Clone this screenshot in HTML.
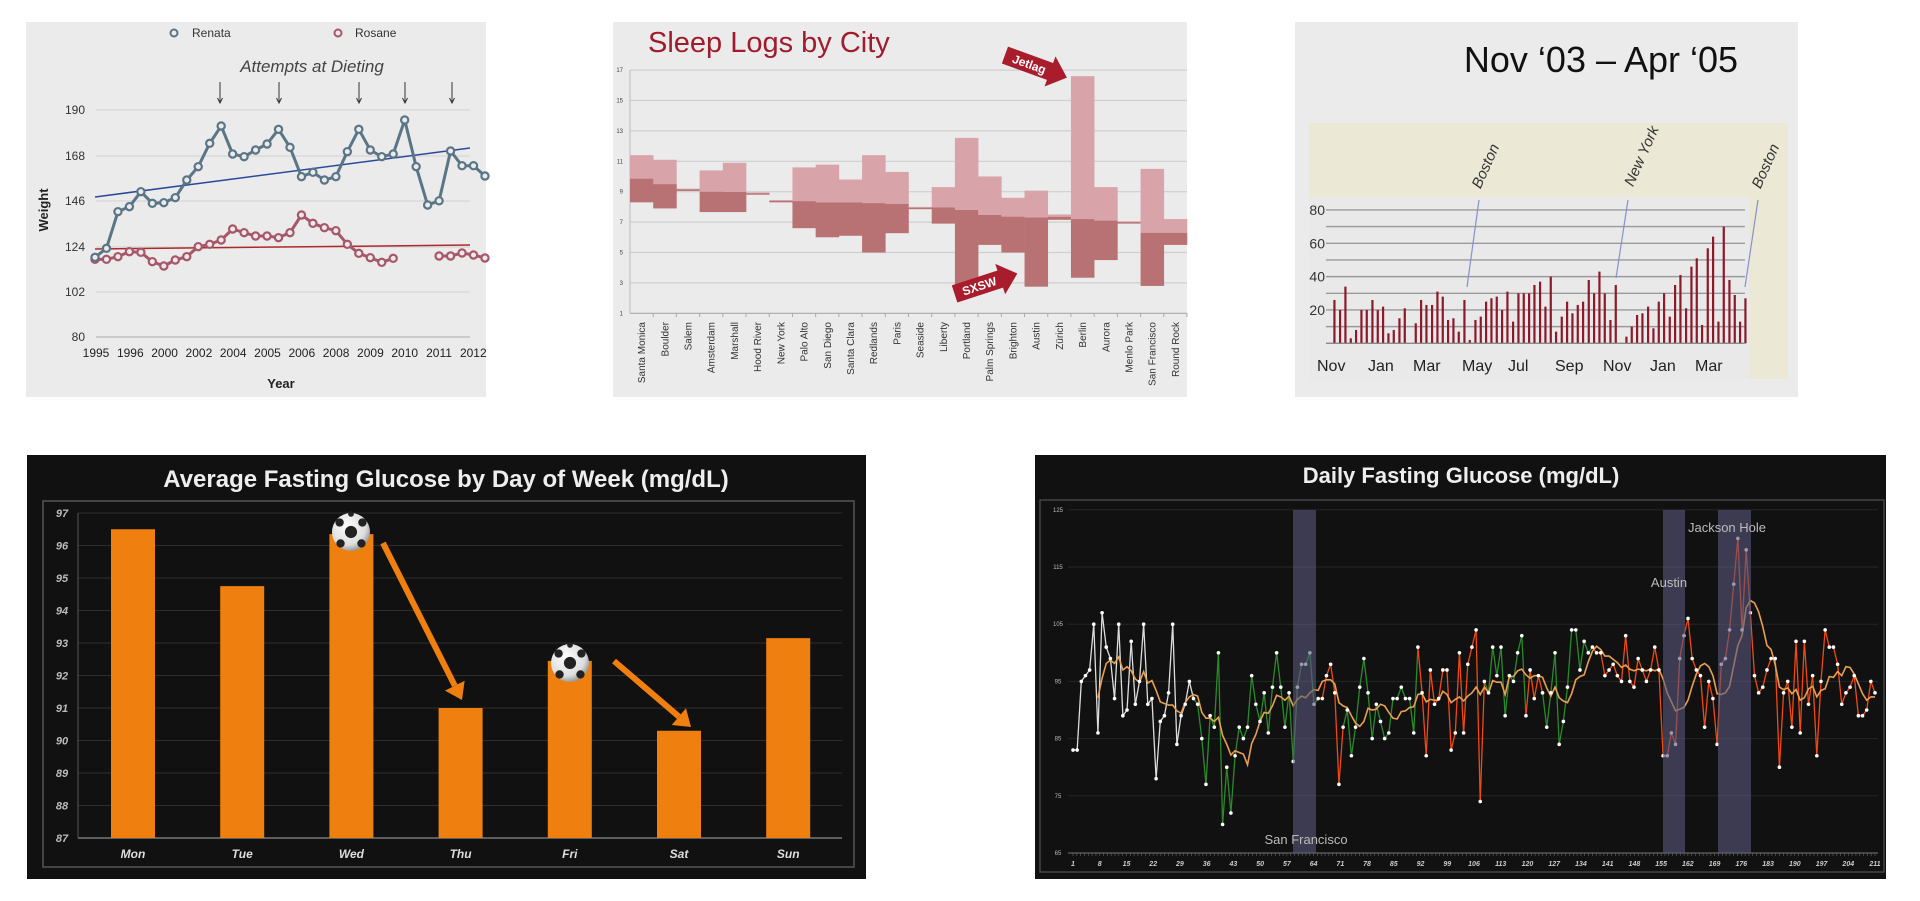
<!DOCTYPE html>
<html><head><meta charset="utf-8"><style>
html,body{margin:0;padding:0;background:#fff;}
svg{display:block;font-family:"Liberation Sans",sans-serif;}
</style></head><body>
<svg id="s" width="1920" height="901" viewBox="0 0 1920 901" xmlns="http://www.w3.org/2000/svg">
<defs>
<radialGradient id="ball" cx="0.4" cy="0.35" r="0.7"><stop offset="0" stop-color="#fff"/><stop offset="0.7" stop-color="#ddd"/><stop offset="1" stop-color="#888"/></radialGradient>
</defs>
<!-- Panel 1 -->
<rect x="26" y="22" width="460" height="375" fill="#ebebeb"/>
<g id="p1"></g>
<!-- Panel 2 -->
<rect x="613" y="22" width="574" height="375" fill="#ebebeb"/>
<text x="648" y="52" font-size="29" fill="#a01c2c">Sleep Logs by City</text>
<g id="p2"></g>
<!-- Panel 3 -->
<rect x="1295" y="22" width="503" height="375" fill="#ebebeb"/>
<text x="1601" y="72" font-size="36" fill="#111" text-anchor="middle">Nov ‘03 – Apr ‘05</text>
<rect x="1309" y="123" width="479" height="256" fill="#ebe9d6"/>
<rect x="1309" y="197" width="440" height="182" fill="#e9e9e9"/>
<g id="p3"></g>
<!-- Panel 4 -->
<rect x="27" y="455" width="839" height="424" fill="#111"/>
<text x="446" y="487" font-size="24" font-weight="bold" fill="#eee" text-anchor="middle">Average Fasting Glucose by Day of Week (mg/dL)</text>
<rect x="43" y="501" width="811" height="366" fill="none" stroke="#555" stroke-width="1.5"/>
<g id="p4"></g>
<!-- Panel 5 -->
<rect x="1035" y="455" width="851" height="424" fill="#111"/>
<text x="1461" y="483" font-size="22" font-weight="bold" fill="#eee" text-anchor="middle">Daily Fasting Glucose (mg/dL)</text>
<rect x="1040" y="500" width="844" height="372" fill="none" stroke="#444" stroke-width="1.5"/>
<g id="p5"></g>
</svg>
<script>
var NS="http://www.w3.org/2000/svg";
function el(g,tag,a,txt){var e=document.createElementNS(NS,tag);for(var k in a)e.setAttribute(k,a[k]);if(txt!==undefined)e.textContent=txt;g.appendChild(e);return e;}
// ---------- Panel 1
(function(){
var g=document.getElementById('p1');
var ys=[110,156,201,247,292,337],lb=[190,168,146,124,102,80];
ys.forEach(function(y,i){el(g,'line',{x1:96,x2:470,y1:y,y2:y,stroke:i==5?'#b8b8b8':'#d6d6d6','stroke-width':1.2});
el(g,'text',{x:85,y:y+4,'font-size':12,fill:'#333','text-anchor':'end'},lb[i]);});
var yrs=[1995,1996,2000,2002,2004,2005,2006,2008,2009,2010,2011,2012];
yrs.forEach(function(t,k){el(g,'text',{x:96+34.3*k,y:357,'font-size':12,fill:'#222','text-anchor':'middle'},t);});
el(g,'text',{x:281,y:388,'font-size':13,'font-weight':'bold',fill:'#222','text-anchor':'middle'},'Year');
el(g,'text',{x:0,y:0,'font-size':13,'font-weight':'bold',fill:'#222','text-anchor':'middle',transform:'translate(48,210) rotate(-90)'},'Weight');
el(g,'circle',{cx:174,cy:33,r:3.5,fill:'none',stroke:'#5a7585','stroke-width':2});
el(g,'text',{x:192,y:37,'font-size':12,fill:'#333'},'Renata');
el(g,'circle',{cx:338,cy:33,r:3.5,fill:'none',stroke:'#a8566a','stroke-width':2});
el(g,'text',{x:355,y:37,'font-size':12,fill:'#333'},'Rosane');
el(g,'text',{x:312,y:72,'font-size':17,'font-style':'italic',fill:'#444','text-anchor':'middle'},'Attempts at Dieting');
[220,279,359,405,452].forEach(function(x){el(g,'line',{x1:x,x2:x,y1:82,y2:102,stroke:'#333','stroke-width':1});
el(g,'path',{d:'M'+(x-2.5)+' 98 L'+x+' 103 L'+(x+2.5)+' 98',fill:'none',stroke:'#333','stroke-width':1});});
el(g,'line',{x1:95,y1:197,x2:470,y2:148,stroke:'#2a4a9a','stroke-width':1.5});
el(g,'line',{x1:95,y1:249,x2:470,y2:245,stroke:'#b02a2a','stroke-width':1.5});
var rz=[742,715,605,590,545,580,578,563,510,470,400,348,432,440,420,402,358,412,500,487,510,500,425,358,420,440,432,330,470];
var ren=rz.map(function(z,i){return [95+11.47*i,z/3+10];});
[205,200.8,151,165.7,165.7,176].forEach(function(y,j){ren.push([95+11.47*(29+j),y]);});
var sz=[748,748,740,725,727,755,768,750,740,710,703,690,657,668,678,678,683,668,615,640,653,662,703,730,743,757,745];
var ros1=sz.map(function(z,i){return [95+11.47*i,z/3+10];});
var ros2=[256,256,253,255,258].map(function(y,j){return [95+11.47*(30+j),y];});
function series(pts,c){el(g,'polyline',{points:pts.map(function(p){return p.join(',');}).join(' '),fill:'none',stroke:c,'stroke-width':3,'stroke-linejoin':'round'});
pts.forEach(function(p){el(g,'circle',{cx:p[0],cy:p[1],r:3.6,fill:'#ebebeb',stroke:c,'stroke-width':2.2});});}
series(ros1,'#a8566a');series(ros2,'#a8566a');series(ren,'#5a7585');
})();
// ---------- Panel 2
(function(){
var g=document.getElementById('p2');
function Y(v){return 313.3-(v-1)*15.2;}
[17,15,13,11,9,7,5,3,1].forEach(function(v){el(g,'line',{x1:630,x2:1187,y1:Y(v),y2:Y(v),stroke:v==1?'#aaa':'#cfcfcf','stroke-width':1.2});
el(g,'text',{x:623,y:Y(v)+2,'font-size':6,fill:'#444','text-anchor':'end'},v);});
el(g,'line',{x1:630,x2:630,y1:Y(17),y2:Y(1),stroke:'#bbb'});
var d=[['Santa Monica',11.4,9.86,8.3],['Boulder',11.1,9.5,7.9],['Salem',9.2,9.15,9.05],['Amsterdam',10.4,9.0,7.66],['Marshall',10.9,8.98,7.66],['Hood River',8.95,8.9,8.8],['New York',8.45,8.4,8.3],['Palo Alto',10.6,8.38,6.6],['San Diego',10.78,8.3,6.0],['Santa Clara',9.8,8.3,6.1],['Redlands',11.4,8.25,5.0],['Paris',10.3,8.2,6.27],['Seaside',8.0,7.95,7.85],['Liberty',9.3,7.97,6.9],['Portland',12.54,7.8,2.6],['Palm Springs',10.0,7.47,5.5],['Brighton',8.6,7.36,5.0],['Austin',9.07,7.3,2.75],['Zürich',7.5,7.35,7.15],['Berlin',16.6,7.2,3.34],['Aurora',9.3,7.1,4.5],['Menlo Park',7.05,7.0,6.9],['San Francisco',10.5,6.3,2.8],['Round Rock',7.2,6.3,5.5]];
var w=(1187-630)/24;
d.forEach(function(c,i){var x=630+w*i;
el(g,'rect',{x:x,y:Y(c[1]),width:w+0.3,height:Y(c[2])-Y(c[1]),fill:'#d8a3a9'});
el(g,'rect',{x:x,y:Y(c[2]),width:w+0.3,height:Y(c[3])-Y(c[2]),fill:'#b97273'});
el(g,'line',{x1:x+w,x2:x+w,y1:313,y2:317,stroke:'#aaa'});
el(g,'text',{x:0,y:0,'font-size':10,fill:'#333','text-anchor':'end',transform:'translate('+(x+w/2+3.5)+',322) rotate(-90)'},c[0]);});
function banner(tx,ty,rot,label){var gg=el(g,'g',{transform:'translate('+tx+','+ty+') rotate('+rot+')'});
el(gg,'polygon',{points:'-32,-9 16,-9 16,-16 34,0 16,16 16,9 -32,9',fill:'#a81c2c'});
el(gg,'text',{x:-6,y:4.5,'font-size':12,'font-weight':'bold',fill:'#fff','text-anchor':'middle'},label);}
banner(1035,66,20,'Jetlag');banner(985,284,-18,'SXSW');
})();
// ---------- Panel 3
(function(){
var g=document.getElementById('p3');
for(var v=0;v<=80;v+=10){var y=343.3-v*1.667;el(g,'line',{x1:1326,x2:1745,y1:y,y2:y,stroke:'#9a9a9a','stroke-width':1.4});}
[80,60,40,20].forEach(function(v){el(g,'text',{x:1325,y:343.3-v*1.667+5,'font-size':14,fill:'#333','text-anchor':'end'},v);});
[['Nov',1317],['Jan',1368],['Mar',1413],['May',1462],['Jul',1508],['Sep',1555],['Nov',1603],['Jan',1650],['Mar',1695]].forEach(function(l){el(g,'text',{x:l[1],y:371,'font-size':16,fill:'#222'},l[0]);});
var b=[[133,26],[150,20],[166,34],[182,3],[198,8],[214,20],[230,20],[247,26],[263,20],[279,22],[295,6],[311,8],[328,15],[344,21],[377,12],[393,26],[409,23],[426,23],[442,31],[458,28],[474,14],[490,15],[506,7],[523,26],[539,2],[556,14],[572,16],[588,25],[604,27],[620,28],[636,20],[652,31],[669,13],[685,30],[701,30],[717,30],[733,35],[750,37],[766,22],[782,40],[798,7],[815,16],[831,25],[847,18],[863,23],[879,25],[896,38],[912,30],[928,43],[944,30],[961,14],[977,35],[1009,4],[1025,10],[1041,17],[1057,18],[1074,22],[1090,9],[1106,25],[1122,30],[1139,16],[1155,35],[1171,41],[1188,21],[1204,46],[1220,51],[1236,11],[1253,57],[1269,64],[1285,13],[1301,70],[1318,38],[1334,29],[1350,13],[1366,27]];
b.forEach(function(p){var x=p[0]/3+1290;el(g,'rect',{x:x-1,y:343.3-p[1]*1.667,width:2.2,height:p[1]*1.667,fill:'#8b1a2a'});});
el(g,'line',{x1:1326,x2:1745,y1:343.3,y2:343.3,stroke:'#888','stroke-width':1.2});
[[1479,200,1467,287],[1628,200,1616,278],[1758,200,1745,287]].forEach(function(l){el(g,'line',{x1:l[0],y1:l[1],x2:l[2],y2:l[3],stroke:'#8890cc','stroke-width':1.2});});
[['Boston',1490,168],['New York',1646,158],['Boston',1770,168]].forEach(function(t){el(g,'text',{x:0,y:0,'font-size':15,'font-style':'italic',fill:'#333','text-anchor':'middle',transform:'translate('+t[1]+','+t[2]+') rotate(-66)'},t[0]);});
})();
// ---------- Panel 4
(function(){
var g=document.getElementById('p4');
function Y(v){return 838-(v-87)*32.5;}
for(var v=87;v<=97;v++){el(g,'line',{x1:78,x2:842,y1:Y(v),y2:Y(v),stroke:v==87?'#777':'#2e2e2e','stroke-width':v==87?1.5:1});
el(g,'text',{x:62,y:Y(v)+4,'font-size':11,'font-weight':'bold','font-style':'italic',fill:'#bbb','text-anchor':'middle'},v);}
el(g,'line',{x1:78,x2:78,y1:Y(97),y2:Y(87),stroke:'#555'});
var d=[['Mon',96.5],['Tue',94.75],['Wed',96.35],['Thu',91.0],['Fri',92.45],['Sat',90.3],['Sun',93.15]];
d.forEach(function(c,i){var cx=133+109.2*i;el(g,'rect',{x:cx-22,y:Y(c[1]),width:44,height:Y(87)-Y(c[1]),fill:'#ef7f0e'});
el(g,'text',{x:cx,y:858,'font-size':12,'font-weight':'bold','font-style':'italic',fill:'#ddd','text-anchor':'middle'},c[0]);});
function arrow(x1,y1,x2,y2){var a=Math.atan2(y2-y1,x2-x1),L=16,W=11;
var bx=x2-L*Math.cos(a),by=y2-L*Math.sin(a);
el(g,'line',{x1:x1,y1:y1,x2:bx,y2:by,stroke:'#ef7f0e','stroke-width':6});
el(g,'polygon',{points:x2+','+y2+' '+(bx+W*Math.sin(a))+','+(by-W*Math.cos(a))+' '+(bx-W*Math.sin(a))+','+(by+W*Math.cos(a)),fill:'#ef7f0e'});}
arrow(383,543,462,700);arrow(614,661,691,727);
function ball(cx,cy,r){el(g,'circle',{cx:cx,cy:cy,r:r,fill:'url(#ball)'});
[[0,0,0.32],[-0.6,-0.5,0.22],[0.6,-0.5,0.22],[-0.55,0.6,0.22],[0.55,0.6,0.22],[0,-0.95,0.15]].forEach(function(p){el(g,'circle',{cx:cx+p[0]*r,cy:cy+p[1]*r,r:p[2]*r,fill:'#222'});});}
ball(351,532,19);ball(570,663,19);
})();
// ---------- Panel 5
(function(){
var g=document.getElementById('p5');
function Y(v){return 853-(v-65)*5.72;}
var x0=1073,x1=1875;
[125,115,105,95,85,75,65].forEach(function(v){el(g,'line',{x1:1068,x2:1878,y1:Y(v),y2:Y(v),stroke:v==65?'#777':'#262626','stroke-width':1});
el(g,'text',{x:1058,y:Y(v)+2,'font-size':6,fill:'#bbb','text-anchor':'middle'},v);});
for(var k=1;k<=211;k+=7){var x=x0+(k-1)*(x1-x0)/210;el(g,'text',{x:x,y:866,'font-size':7,'font-weight':'bold','font-style':'italic',fill:'#ccc','text-anchor':'middle'},k);}
for(var k=1;k<=211;k++){var x=x0+(k-1)*(x1-x0)/210;el(g,'line',{x1:x,x2:x,y1:853,y2:856,stroke:'#666','stroke-width':0.6});}
var v=[83,83,95,96,97,105,86,107,101,99,92,105,89,90,102,91,95,105,91,92,78,88,89,93,105,84,89,91,95,92,91,85,77,89,87,100,70,80,72,82,87,85,87,96,91,88,93,86,94,100,94,87,93,81,94,98,98,100,91,92,92,96,98,93,77,87,90,82,87,94,99,93,85,91,88,85,86,92,92,94,92,92,86,101,93,82,97,91,92,97,97,83,86,100,86,98,101,104,74,95,93,101,96,101,89,96,95,100,103,89,97,92,96,93,87,93,100,84,88,94,104,104,97,102,100,101,100,100,96,97,98,96,95,103,95,94,99,97,95,97,101,97,82,82,86,84,99,103,106,99,97,96,87,95,92,84,98,99,104,112,120,104,118,107,96,93,94,97,99,99,80,93,95,87,102,86,102,91,96,82,95,104,101,101,98,91,93,94,96,89,89,90,95,93];
var n=v.length,dx=(x1-x0)/(n-1);
function X(i){return x0+i*dx;}
function col(i){if(i<30)return '#dddddd';if((i>=30&&i<84)&&!(i>=60&&i<66))return '#2b8a2b';if(i>=100&&i<126&&!(i>=110&&i<114))return '#2b8a2b';return '#f04a12';}
for(var i=0;i<n-1;i++){el(g,'line',{x1:X(i),y1:Y(v[i]),x2:X(i+1),y2:Y(v[i+1]),stroke:col(i+1),'stroke-width':1.3});}
var ma=[];for(var i=0;i<n;i++){if(i<6)continue;var s=0;for(var j=i-6;j<=i;j++)s+=v[j];ma.push(X(i)+','+Y(s/7));}
el(g,'polyline',{points:ma.join(' '),fill:'none',stroke:'#e8a050','stroke-width':1.6});
for(var i=0;i<n;i++){el(g,'circle',{cx:X(i),cy:Y(v[i]),r:1.8,fill:'#fff'});}
[[1293,23],[1663,22],[1718,33]].forEach(function(b){el(g,'rect',{x:b[0],y:510,width:b[1],height:343,fill:'rgba(90,88,125,0.6)'});});
el(g,'text',{x:1306,y:844,'font-size':13,fill:'#bbb','text-anchor':'middle'},'San Francisco');
el(g,'text',{x:1669,y:587,'font-size':13,fill:'#bbb','text-anchor':'middle'},'Austin');
el(g,'text',{x:1727,y:532,'font-size':13,fill:'#bbb','text-anchor':'middle'},'Jackson Hole');
})();
</script>
</body></html>
